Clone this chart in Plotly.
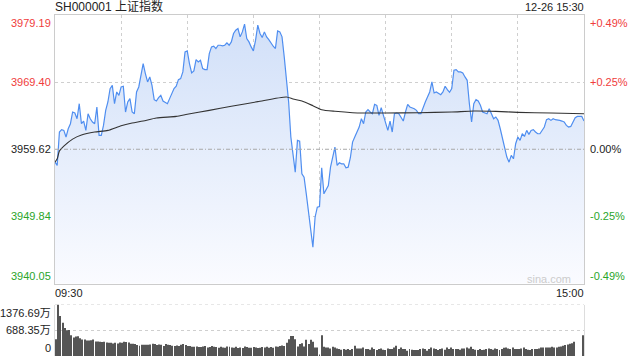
import plotly.graph_objects as go

prev_close = 3959.62

price = [
    3957.74, 3957.26, 3962.13, 3962.47, 3962.37, 3961.40, 3962.61, 3963.34, 3965.05, 3964.90,
    3964.07, 3966.26, 3963.34, 3963.73, 3962.37, 3964.80, 3964.07, 3963.59, 3963.34, 3965.78,
    3961.64, 3961.64, 3963.10, 3965.29, 3966.51, 3968.46, 3968.94, 3966.26, 3967.97, 3967.48,
    3968.70, 3968.80, 3965.05, 3966.51, 3967.00, 3965.05, 3964.80, 3967.97, 3968.70, 3970.65,
    3972.11, 3970.65, 3969.43, 3970.16, 3968.94, 3966.85, 3966.65, 3967.14, 3967.48, 3966.65,
    3966.51, 3966.26, 3967.00, 3967.63, 3968.46, 3968.80, 3969.77, 3969.92, 3970.89, 3973.81,
    3973.96, 3972.11, 3970.74, 3971.04, 3972.69, 3972.35, 3972.59, 3971.38, 3971.23, 3971.23,
    3973.57, 3974.54, 3974.64, 3974.30, 3974.78, 3974.78, 3974.69, 3974.78, 3975.13, 3974.78,
    3975.27, 3976.49,
    3976.98, 3977.22, 3976.00, 3976.73, 3977.85, 3975.76, 3975.27, 3974.54, 3973.96, 3975.52,
    3977.71, 3976.49, 3975.90, 3976.73, 3976.00, 3975.61, 3975.03, 3974.64, 3974.30, 3976.88,
    3976.73, 3976.00, 3973.08, 3970.16, 3966.51, 3961.40, 3958.96, 3956.28, 3960.91, 3960.81,
    3956.04, 3955.55, 3953.12, 3950.20, 3947.76, 3945.33, 3949.71, 3951.17, 3951.27, 3956.92,
    3953.12, 3953.85, 3954.34, 3957.01, 3958.48, 3959.94, 3957.26, 3957.65, 3957.50, 3957.50,
    3956.92, 3957.01, 3958.38, 3960.67, 3961.40, 3962.13, 3962.86, 3964.07, 3963.34, 3965.05,
    3965.39, 3965.05, 3964.80, 3966.17, 3966.02, 3964.56, 3965.68, 3964.56, 3963.59, 3962.37,
    3963.73, 3962.13, 3964.80, 3964.90, 3964.80, 3964.22, 3963.73, 3965.05, 3966.17, 3965.78,
    3965.68, 3965.53, 3965.29, 3964.80, 3964.80, 3965.78, 3966.51, 3967.24, 3967.97, 3969.43,
    3967.82, 3967.97, 3967.73, 3967.58, 3967.97, 3968.80, 3968.31, 3967.92, 3968.46, 3971.13,
    3971.23, 3970.89, 3970.89, 3970.74, 3970.16, 3969.67, 3966.26, 3963.59, 3966.26, 3966.85,
    3966.65, 3966.02, 3965.05, 3964.90, 3964.80, 3965.53, 3964.80, 3964.07, 3964.32, 3963.83,
    3962.61, 3961.15, 3959.94, 3958.48, 3957.74, 3958.72, 3958.23, 3960.42, 3961.40, 3960.91,
    3961.88, 3961.49, 3962.37, 3961.79, 3962.37, 3962.47, 3962.13, 3961.88, 3961.88, 3962.37,
    3962.86, 3963.93, 3964.07, 3963.83, 3964.07, 3963.93, 3963.93, 3963.83, 3963.73, 3963.59,
    3963.10, 3962.86, 3962.95, 3963.59, 3964.22, 3964.41, 3964.41, 3964.41, 3963.73,
]

avg_minutes = [0, 1, 2, 4, 8, 12, 18, 24, 30, 35, 40, 46, 55, 60, 70, 80, 92, 105, 108,
               112, 117, 121, 127, 135, 150, 165, 180, 190, 200, 210, 225, 240]
avg_values = [3957.74, 3958.23, 3959.35, 3960.08, 3961.10, 3961.69, 3962.13, 3962.37,
              3963.05, 3963.44, 3963.73, 3964.17, 3964.41, 3964.71, 3965.29, 3965.88,
              3966.56, 3967.24, 3966.95, 3966.65, 3965.97, 3965.39, 3965.15, 3964.95,
              3964.90, 3964.95, 3965.05, 3965.19, 3965.14, 3965.00, 3964.90, 3964.80]

volume = [
    450, 1376.69, 1068, 891, 750, 688, 697, 556, 494, 520,
    530, 477, 441, 441, 415, 415, 424, 441, 388, 388,
    380, 371, 380, 362, 353, 353, 335, 353, 335, 362,
    353, 380, 371, 362, 327, 327, 318, 291, 274, 300,
    300, 300, 300, 309, 327, 318, 291, 309, 300, 265,
    318, 300, 291, 274, 265, 283, 265, 300, 318, 291,
    265, 265, 247, 247, 256, 238, 238, 256, 265, 230,
    238, 265, 247, 238, 221, 247, 230, 221, 256, 247,
    230, 221, 247, 212, 230, 212, 256, 238, 221, 221,
    238, 230, 212, 221, 238, 230, 247, 221, 238, 221,
    256, 247, 265, 283, 265, 353, 450, 538, 538, 450,
    256, 318, 344, 256, 432, 318, 432, 380, 230, 230,
    26, 556,
    247, 229, 229, 203, 247, 229, 203, 185, 168, 185,
    168, 185, 159, 185, 274, 203, 203, 203, 229, 185,
    185, 168, 229, 185, 159, 185, 203, 168, 159, 203,
    185, 185, 229, 274, 185, 229, 185, 185, 141, 185,
    168, 159, 159, 159, 185, 203, 185, 141, 185, 229,
    203, 185, 159, 185, 203, 168, 229, 185, 229, 185,
    185, 185, 168, 203, 203, 229, 203, 247, 185, 168,
    159, 185, 159, 168, 185, 203, 185, 168, 203, 185,
    159, 185, 221, 229, 203, 185, 229, 185, 185, 185,
    203, 229, 185, 168, 159, 185, 185, 185, 203, 229,
    229, 229, 229, 229, 247, 229, 229, 247, 256, 274,
    291, 309, 327, 344, 380,
    0, 0, 0, 556,
]

left_ticks = [3979.19, 3969.40, 3959.62, 3949.84, 3940.05]
left_labels = ["3979.19", "3969.40", "3959.62", "3949.84", "3940.05"]
right_labels = ["+0.49%", "+0.25%", "0.00%", "-0.25%", "-0.49%"]
vol_ticks = [1376.69, 688.35, 0]
vol_labels = ["1376.69万", "688.35万", "0"]
time_labels = ["09:30", "15:00"]
title_text = "SH000001 上证指数"
date_text = "12-26 15:30"

assert len(price) == 241 and len(volume) == 241

minutes = list(range(len(price)))
RED, GREEN, BLACK = "#f03c3c", "#2aa52a", "#222222"
tick_colors = [RED, RED, BLACK, GREEN, GREEN]
FONT = "Liberation Sans, Arial, Noto Sans CJK SC, sans-serif"
GRID = "#cfcfcf"

fig = go.Figure()
fig.add_trace(go.Scatter(
    x=minutes, y=price, mode="lines",
    line=dict(color="#4f8ef0", width=1.2),
    fill="tozeroy",
    fillgradient=dict(type="vertical",
                      colorscale=[[0, "rgb(250,251,255)"], [1, "rgb(208,223,248)"]],
                      start=left_ticks[-1], stop=left_ticks[0]),
    xaxis="x", yaxis="y", hoverinfo="skip"))
fig.add_trace(go.Scatter(
    x=avg_minutes, y=avg_values, mode="lines",
    line=dict(color="#333333", width=1.1, shape="spline", smoothing=0.6),
    xaxis="x", yaxis="y", hoverinfo="skip"))
fig.add_trace(go.Bar(
    x=minutes, y=volume, width=0.45,
    marker=dict(color="#555555", line=dict(width=0)),
    xaxis="x2", yaxis="y2", hoverinfo="skip"))

fig.add_shape(type="line", xref="paper", yref="y", x0=0, x1=1,
              y0=prev_close, y1=prev_close,
              line=dict(color="#a8a8a8", width=1, dash="4px,2px,1px,2px"))
fig.add_shape(type="line", xref="paper", yref="y2", x0=0, x1=1,
              y0=vol_ticks[0], y1=vol_ticks[0],
              line=dict(color=GRID, width=1, dash="dot"))

ann = []
for v, lab, rlab, col in zip(left_ticks, left_labels, right_labels, tick_colors):
    anchor = "top" if v == left_ticks[0] else ("bottom" if v == left_ticks[-1] else "middle")
    ann.append(dict(x=0, xref="paper", y=v, yref="y", text=lab, showarrow=False,
                    xanchor="right", yanchor=anchor, xshift=-2,
                    font=dict(family=FONT, size=11, color=col)))
    ann.append(dict(x=1, xref="paper", y=v, yref="y", text=rlab, showarrow=False,
                    xanchor="left", yanchor=anchor, xshift=4,
                    font=dict(family=FONT, size=11, color=col)))
for v, lab in zip(vol_ticks, vol_labels):
    anchor = "top" if v == vol_ticks[0] else ("bottom" if v == 0 else "middle")
    ann.append(dict(x=0, xref="paper", y=v, yref="y2", text=lab, showarrow=False,
                    xanchor="right", yanchor=anchor, xshift=-2,
                    font=dict(family=FONT, size=11, color=BLACK)))
ann.append(dict(x=0, xref="paper", y=0.185, yref="paper", text=time_labels[0],
                showarrow=False, xanchor="left", yanchor="middle", xshift=-2,
                font=dict(family=FONT, size=11, color=BLACK)))
ann.append(dict(x=1, xref="paper", y=0.185, yref="paper", text=time_labels[1],
                showarrow=False, xanchor="right", yanchor="middle", xshift=2,
                font=dict(family=FONT, size=11, color=BLACK)))
ann.append(dict(x=0, xref="paper", y=1.0235, yref="paper", text=title_text,
                showarrow=False, xanchor="left", yanchor="middle", xshift=-2,
                font=dict(family=FONT, size=12, color=BLACK)))
ann.append(dict(x=1, xref="paper", y=1.0235, yref="paper", text=date_text,
                showarrow=False, xanchor="right", yanchor="middle", xshift=2,
                font=dict(family=FONT, size=11, color=BLACK)))
ann.append(dict(x=0.98, xref="paper", y=0.2265, yref="paper", text="sina.com",
                showarrow=False, xanchor="right", yanchor="middle",
                font=dict(family=FONT, size=11, color="#cccccc")))

fig.update_layout(
    width=640, height=360,
    margin=dict(l=55, r=56, t=15, b=4),
    paper_bgcolor="white", plot_bgcolor="white",
    showlegend=False,
    annotations=ann,
    xaxis=dict(domain=[0, 1], range=[0, 240], tick0=0, dtick=30,
               showgrid=True, gridcolor=GRID, griddash="dot", gridwidth=1,
               showticklabels=False, ticks="", zeroline=False,
               showline=True, linecolor="#cccccc", linewidth=1, mirror=True,
               anchor="y"),
    yaxis=dict(domain=[0.2126, 1], range=[left_ticks[-1], left_ticks[0]],
               tickvals=[left_ticks[1], left_ticks[3]],
               showgrid=True, gridcolor=GRID, griddash="dot", gridwidth=1,
               showticklabels=False, ticks="", zeroline=False,
               showline=True, linecolor="#cccccc", linewidth=1, mirror=True,
               anchor="x"),
    xaxis2=dict(domain=[0, 1], range=[-0.5, 240.5], showgrid=False,
                showticklabels=False, ticks="", zeroline=False, showline=False,
                anchor="y2"),
    yaxis2=dict(domain=[0, 0.151], range=[0, vol_ticks[0]],
                tickvals=[vol_ticks[1]],
                showgrid=True, gridcolor=GRID, griddash="dot", gridwidth=1,
                showticklabels=False, ticks="", zeroline=False,
                showline=True, linecolor="#dddddd", linewidth=1, mirror=True,
                anchor="x2"),
)

fig.write_html("out.html")
